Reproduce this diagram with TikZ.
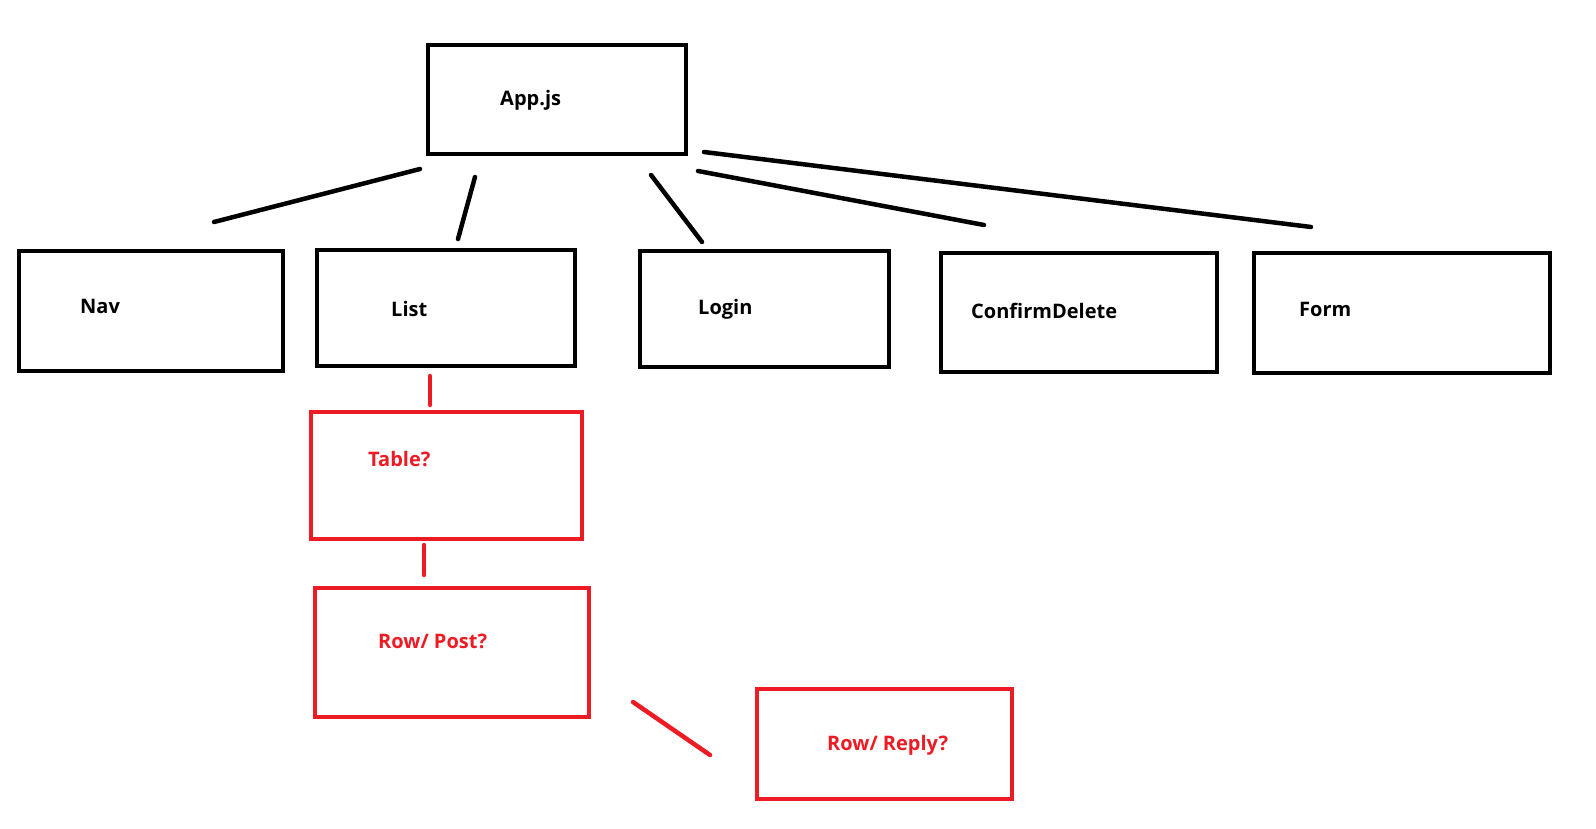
\documentclass[tikz,border=0pt]{standalone}
\usepackage{fontspec}
\setmainfont{Open Sans}
\usepackage{xcolor}
\usepackage{tikz}
\definecolor{paintred}{HTML}{ED1C24}

\tikzset{
  comp/.style={draw,line width=4.5pt,inner sep=0pt},
  redcomp/.style={comp,draw=paintred},
  compname/.style={anchor=base west,inner sep=0pt,font=\fontsize{20}{24}\selectfont\bfseries},
  redcompname/.style={compname,text=paintred},
  link/.style={line width=4.5pt,line cap=round},
  redlink/.style={link,draw=paintred}
}

\begin{document}
\begin{tikzpicture}[x=1pt,y=-1pt]
    \useasboundingbox (0,0) rectangle (1596,829);
    % components
    \node[comp,minimum width=258,minimum height=109] (app) at (557,99.5) {};
    \node[comp,minimum width=264,minimum height=120] (nav) at (151,311) {};
    \node[comp,minimum width=258,minimum height=116] (list) at (446,308) {};
    \node[comp,minimum width=249,minimum height=116] (login) at (764.5,309) {};
    \node[comp,minimum width=276,minimum height=119] (confirm) at (1079,312.5) {};
    \node[comp,minimum width=296,minimum height=120] (form) at (1402,313) {};
    \node[redcomp,minimum width=271,minimum height=127] (table) at (446.5,475.5) {};
    \node[redcomp,minimum width=274,minimum height=129] (post) at (452,652.5) {};
    \node[redcomp,minimum width=255,minimum height=110] (reply) at (884.5,744) {};
    % names
    \node[compname] (appname) at (500,106) {App.js};
    \node[compname] (navname) at (80,313) {Nav};
    \node[compname] (listname) at (391,316) {List};
    \node[compname] (loginname) at (698,314) {Login};
    \node[compname] (confirmname) at (971,318) {ConfirmDelete};
    \node[compname] (formname) at (1299,316) {Form};
    \node[redcompname] (tablename) at (368,466) {Table?};
    \node[redcompname] (postname) at (378,648) {Row/ Post?};
    \node[redcompname] (replyname) at (827,750) {Row/ Reply?};
    % loose line ends
    \coordinate (a1) at (420,169);  \coordinate (n1) at (214,222);
    \coordinate (a2) at (475,177);  \coordinate (l1) at (458,239);
    \coordinate (a3) at (651,175);  \coordinate (g1) at (702,242);
    \coordinate (a4) at (698,171);  \coordinate (c1) at (984,225);
    \coordinate (a5) at (704,152);  \coordinate (f1) at (1311,227);
    \coordinate (l2) at (430,376);  \coordinate (t1) at (430,405);
    \coordinate (t2) at (424,545);  \coordinate (p1) at (424,575);
    \coordinate (p2) at (633,702);  \coordinate (r1) at (710,755);
    \draw[link] (a1) -- (n1);
    \draw[link] (a2) -- (l1);
    \draw[link] (a3) -- (g1);
    \draw[link] (a4) -- (c1);
    \draw[link] (a5) -- (f1);
    \draw[redlink] (l2) -- (t1);
    \draw[redlink] (t2) -- (p1);
    \draw[redlink] (p2) -- (r1);
\end{tikzpicture}
\end{document}
